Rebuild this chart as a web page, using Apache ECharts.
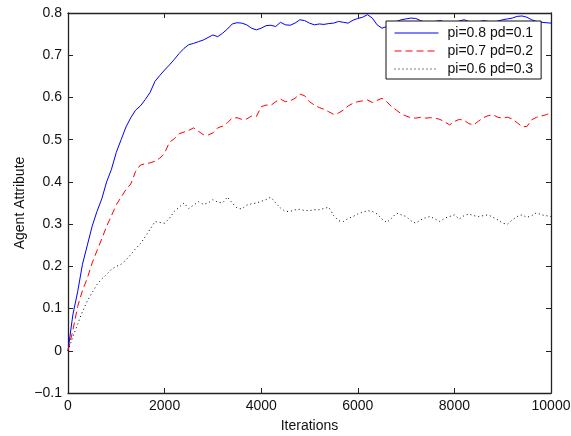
<!DOCTYPE html>
<html>
<head>
<meta charset="utf-8">
<script src="https://cdn.jsdelivr.net/npm/echarts@6/dist/echarts.min.js"></script>
<style>
  html, body { margin: 0; padding: 0; background: #fff; }
  #main { width: 571px; height: 436px; }
</style>
</head>
<body>
<div id="main"></div>
<script>
// iterations, every 100 steps
const iterations = [];
for (let i = 0; i <= 100; i++) iterations.push(i * 100);

const seriesNames = ['pi=0.8 pd=0.1', 'pi=0.7 pd=0.2', 'pi=0.6 pd=0.3'];

// values
const blue = [
  0.000, 0.085, 0.140, 0.205, 0.250, 0.295, 0.330, 0.360, 0.400, 0.430,
  0.470, 0.500, 0.530, 0.552, 0.570, 0.580, 0.595, 0.612, 0.638, 0.652,
  0.665, 0.677, 0.690, 0.704, 0.716, 0.725, 0.728, 0.732, 0.736, 0.742,
  0.748, 0.744, 0.752, 0.762, 0.774, 0.777, 0.776, 0.772, 0.764, 0.760,
  0.764, 0.770, 0.771, 0.768, 0.778, 0.772, 0.771, 0.776, 0.784, 0.782,
  0.776, 0.772, 0.774, 0.773, 0.775, 0.776, 0.780, 0.778, 0.776, 0.783,
  0.787, 0.790, 0.796, 0.788, 0.772, 0.764, 0.768, 0.775, 0.780, 0.784,
  0.786, 0.788, 0.787, 0.782, 0.778, 0.776, 0.780, 0.782, 0.779, 0.776,
  0.778, 0.781, 0.784, 0.780, 0.777, 0.779, 0.782, 0.780, 0.778, 0.781,
  0.784, 0.786, 0.788, 0.792, 0.793, 0.790, 0.784, 0.780, 0.778, 0.777,
  0.776
];
const red = [
  0.000, 0.048, 0.105, 0.143, 0.172, 0.208, 0.237, 0.265, 0.295, 0.320,
  0.346, 0.364, 0.382, 0.395, 0.425, 0.440, 0.443, 0.445, 0.449, 0.456,
  0.468, 0.494, 0.502, 0.514, 0.518, 0.522, 0.528, 0.520, 0.512, 0.511,
  0.516, 0.528, 0.532, 0.540, 0.551, 0.552, 0.548, 0.549, 0.556, 0.555,
  0.578, 0.582, 0.581, 0.590, 0.596, 0.590, 0.592, 0.598, 0.608, 0.604,
  0.590, 0.582, 0.576, 0.572, 0.566, 0.560, 0.563, 0.570, 0.580, 0.586,
  0.590, 0.592, 0.594, 0.588, 0.593, 0.598, 0.590, 0.578, 0.570, 0.561,
  0.556, 0.552, 0.551, 0.553, 0.551, 0.552, 0.551, 0.548, 0.542, 0.535,
  0.543, 0.548, 0.546, 0.538, 0.535, 0.544, 0.552, 0.557, 0.559, 0.553,
  0.551, 0.553, 0.549, 0.540, 0.531, 0.531, 0.547, 0.553, 0.556, 0.559,
  0.564
];
const black = [
  0.000, 0.033, 0.063, 0.093, 0.118, 0.138, 0.157, 0.170, 0.181, 0.193,
  0.200, 0.205, 0.215, 0.228, 0.242, 0.254, 0.270, 0.288, 0.306, 0.304,
  0.302, 0.314, 0.330, 0.340, 0.350, 0.337, 0.345, 0.353, 0.347, 0.350,
  0.358, 0.352, 0.350, 0.364, 0.350, 0.338, 0.336, 0.345, 0.348, 0.350,
  0.354, 0.358, 0.364, 0.350, 0.338, 0.330, 0.330, 0.334, 0.335, 0.332,
  0.332, 0.334, 0.334, 0.337, 0.340, 0.320, 0.308, 0.306, 0.313, 0.318,
  0.324, 0.328, 0.332, 0.330, 0.324, 0.312, 0.304, 0.314, 0.326, 0.322,
  0.318, 0.308, 0.302, 0.310, 0.315, 0.318, 0.312, 0.306, 0.314, 0.318,
  0.322, 0.312, 0.320, 0.324, 0.320, 0.318, 0.320, 0.322, 0.316, 0.310,
  0.302, 0.300, 0.310, 0.318, 0.322, 0.316, 0.320, 0.327, 0.322, 0.320,
  0.318
];

function pairs(ys) {
  return iterations.map((x, i) => [x, ys[i]]);
}

const FONT = 'Liberation Sans, Arial, Helvetica, sans-serif';

function yLabel(v) {
  const r = Math.round(v * 10) / 10;
  if (r === 0) return '0';
  const s = Math.abs(r).toFixed(1);
  return r < 0 ? '\u2212' + s : s;
}

const tickStyle = { show: true, inside: true, length: 5, lineStyle: { color: '#222', width: 1 } };
const axisLine = { show: true, onZero: false, lineStyle: { color: '#222', width: 1.3 } };
const txt = { fontFamily: FONT, fontSize: 14, color: '#111' };

const myChart = echarts.init(document.getElementById('main'));
const chartOpts = {
  animation: false,
  backgroundColor: '#fff',
  grid: { left: 68, right: 20, top: 13, bottom: 43, containLabel: false, outerBoundsMode: 'none' },
  xAxis: [
    {
      type: 'value', min: 0, max: 10000, interval: 2000,
      name: 'Iterations', nameLocation: 'middle', nameGap: 26, nameMoveOverlap: false,
      nameTextStyle: txt,
      axisLine: axisLine, axisTick: tickStyle,
      axisLabel: Object.assign({ margin: 6, formatter: v => String(v) }, txt),
      splitLine: { show: false }
    },
    {
      type: 'value', min: 0, max: 10000, interval: 2000, position: 'top',
      axisLine: axisLine, axisTick: tickStyle,
      axisLabel: { show: false }, splitLine: { show: false }
    }
  ],
  yAxis: [
    {
      type: 'value', min: -0.1, max: 0.8, interval: 0.1,
      name: 'Agent Attribute', nameLocation: 'middle', nameGap: 41, nameMoveOverlap: false,
      nameTextStyle: txt,
      axisLine: axisLine, axisTick: tickStyle,
      axisLabel: Object.assign({ margin: 6, formatter: yLabel }, txt),
      splitLine: { show: false }
    },
    {
      type: 'value', min: -0.1, max: 0.8, interval: 0.1, position: 'right',
      axisLine: axisLine, axisTick: tickStyle,
      axisLabel: { show: false }, splitLine: { show: false }
    }
  ],
  legend: {
    orient: 'vertical',
    left: 386, top: 21,
    padding: [5, 8, 3, 8],
    itemWidth: 44, itemHeight: 14, itemGap: 4,
    backgroundColor: '#fff',
    borderColor: '#111', borderWidth: 1,
    lineStyle: { width: 1 },
    textStyle: Object.assign({ padding: [0, 0, 0, 4] }, txt),
    data: seriesNames
  },
  series: [
    {
      name: seriesNames[0], type: 'line', data: pairs(blue),
      symbol: 'none', showSymbol: false,
      lineStyle: { color: '#0000ff', width: 1 }, itemStyle: { color: 'rgba(0,0,0,0)', borderWidth: 0 }
    },
    {
      name: seriesNames[1], type: 'line', data: pairs(red),
      symbol: 'none', showSymbol: false,
      lineStyle: { color: '#ff0000', width: 1, type: [7, 4] }, itemStyle: { color: 'rgba(0,0,0,0)', borderWidth: 0 }
    },
    {
      name: seriesNames[2], type: 'line', data: pairs(black),
      symbol: 'none', showSymbol: false,
      lineStyle: { color: '#000000', width: 1, type: [1, 3] }, itemStyle: { color: 'rgba(0,0,0,0)', borderWidth: 0 }
    }
  ]
};
myChart.setOption(chartOpts);
</script>
</body>
</html>
